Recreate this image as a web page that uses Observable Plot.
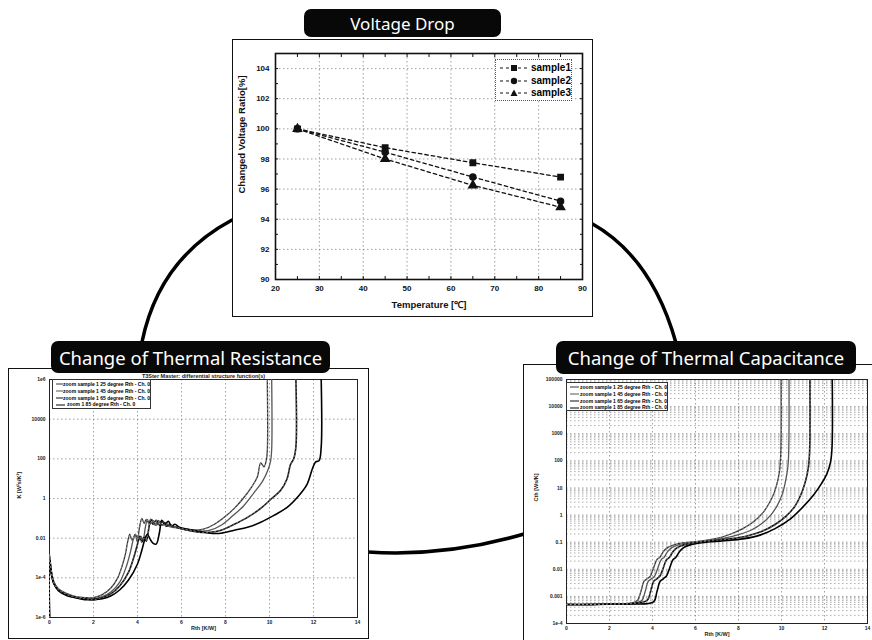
<!DOCTYPE html>
<html><head><meta charset="utf-8">
<script src="https://cdn.jsdelivr.net/npm/d3@7"></script>
<script src="https://cdn.jsdelivr.net/npm/@observablehq/plot@0.6"></script>
<style>
body{margin:0;background:#fff;}
#stage{position:relative;width:872px;height:640px;overflow:hidden;background:#fff;font-family:"Liberation Sans",Arial,sans-serif;}
.abs{position:absolute;}
.frame{position:absolute;border:1.5px solid #111;box-sizing:border-box;pointer-events:none;}
.tag{position:absolute;background:#080808;color:#fff;font-family:"Noto Sans","Open Sans",sans-serif;border-radius:7px;display:flex;align-items:center;justify-content:center;white-space:nowrap;}
.leg{position:absolute;background:#fff;border:1px dotted #555;box-sizing:border-box;}
.leg .row{display:flex;align-items:center;white-space:nowrap;}
</style></head>
<body><div id="stage">
<svg class="abs" width="872" height="640" style="left:0;top:0">
  <g fill="none" stroke="#000" stroke-width="3.5" stroke-linecap="round">
    <path d="M232,220 Q159,259 142,342"/>
    <path d="M591,223 Q652,257 676,343"/>
    <path d="M368,552 Q446,557 524,534"/>
  </g>
</svg>
<div id="top" class="abs" style="left:232px;top:39px"></div>
<div class="frame" style="left:232px;top:39px;width:361px;height:278px"></div>
<div id="left" class="abs" style="left:9px;top:368px"></div>
<div class="frame" style="left:8px;top:368px;width:361px;height:271px"></div>
<div id="right" class="abs" style="left:524px;top:365px"></div>
<div class="frame" style="left:523px;top:364px;width:360px;height:290px"></div>
<div class="tag" style="left:304px;top:9px;width:197px;height:28px;font-size:17px">Voltage Drop</div>
<div class="tag" style="left:51px;top:341px;width:279px;height:32px;font-size:18.5px">Change of Thermal Resistance</div>
<div class="tag" style="left:556px;top:341px;width:300px;height:33px;font-size:18.5px">Change of Thermal Capacitance</div>
</div>
<script>
// ---------- Voltage drop data ----------
const temps = [25, 45, 65, 85];
const sample1 = [100, 98.75, 97.75, 96.8];
const sample2 = [100, 98.45, 96.8, 95.2];
const sample3 = [100, 98.0, 96.25, 94.8];
const seriesNames = ["sample1", "sample2", "sample3"];
const seriesSymbols = ["square", "circle", "triangle"];
const topXTicks = [20, 30, 40, 50, 60, 70, 80, 90];
const topYTicks = [90, 92, 94, 96, 98, 100, 102, 104];

// ---------- Thermal resistance (differential structure function) ----------
// x = Rth [K/W], y given as log10 of K
const L1x = [0,0,0.08,0.2,0.4,0.8,1.2,1.6,2.0,2.4,2.8,3.1,3.3,3.45,3.55,3.65,3.75,3.9,4.0,4.1,4.2,4.3,4.4,4.55,4.7,4.85,5.0,5.15,5.3,5.5,5.8,6.2,6.6,7.0,7.5,8.0,8.4,8.8,9.2,9.45,9.6,9.75,9.85,9.9,9.9];
const L1e = [-6,-2.8,-3.6,-4.2,-4.55,-4.8,-4.95,-5.0,-5.0,-4.85,-4.5,-4.0,-3.4,-2.8,-2.2,-1.8,-2.1,-1.8,-2.0,-1.4,-1.0,-1.25,-1.05,-1.3,-1.1,-1.35,-1.15,-1.35,-1.25,-1.4,-1.45,-1.55,-1.6,-1.55,-1.3,-0.9,-0.5,0.0,0.6,1.1,1.8,1.6,1.9,2.4,6];
const L2x = [0,0,0.08,0.2,0.4,0.8,1.2,1.6,2.0,2.4,2.8,3.2,3.5,3.7,3.8,3.9,4.0,4.15,4.25,4.35,4.45,4.55,4.65,4.8,4.95,5.1,5.25,5.4,5.6,5.9,6.3,6.8,7.3,7.8,8.3,8.8,9.3,9.7,9.95,10.05,10.1,10.1];
const L2e = [-6,-2.9,-3.7,-4.25,-4.6,-4.85,-5.0,-5.05,-5.05,-4.95,-4.7,-4.2,-3.4,-2.6,-2.1,-1.85,-2.2,-1.9,-2.1,-1.5,-1.05,-1.3,-1.05,-1.35,-1.1,-1.35,-1.2,-1.4,-1.45,-1.5,-1.6,-1.65,-1.6,-1.35,-0.9,-0.4,0.3,0.9,1.5,1.9,2.5,6];
const L3x = [0,0,0.08,0.2,0.4,0.8,1.2,1.6,2.0,2.4,2.8,3.2,3.6,3.85,4.0,4.1,4.2,4.3,4.4,4.5,4.6,4.7,4.85,5.0,5.15,5.3,5.45,5.6,5.9,6.3,6.8,7.3,7.8,8.4,9.0,9.6,10.1,10.5,10.8,10.95,11.1,11.2,11.2];
const L3e = [-6,-3.0,-3.7,-4.3,-4.6,-4.85,-5.0,-5.05,-5.1,-5.0,-4.8,-4.4,-3.7,-2.9,-2.3,-1.9,-2.2,-1.95,-2.15,-1.6,-1.05,-1.3,-1.1,-1.35,-1.15,-1.4,-1.3,-1.4,-1.5,-1.6,-1.7,-1.7,-1.6,-1.3,-0.95,-0.5,0.0,0.4,1.0,1.7,2.0,2.6,6];
const L4x = [0,0,0.08,0.2,0.4,0.8,1.2,1.6,2.0,2.4,2.8,3.2,3.6,4.0,4.2,4.35,4.45,4.55,4.7,4.85,5.0,5.1,5.25,5.4,5.55,5.7,5.9,6.3,6.8,7.3,7.8,8.4,9.0,9.6,10.2,10.8,11.3,11.7,11.95,12.1,12.25,12.35,12.35];
const L4e = [-6,-3.0,-3.8,-4.3,-4.65,-4.9,-5.0,-5.1,-5.1,-5.05,-4.9,-4.6,-4.1,-3.3,-2.6,-2.0,-1.8,-2.0,-2.25,-2.3,-1.7,-1.1,-1.3,-1.15,-1.4,-1.3,-1.45,-1.55,-1.65,-1.75,-1.75,-1.6,-1.45,-1.2,-0.85,-0.45,0.1,0.7,1.5,1.85,1.9,2.6,6];
const kTicks = [1e-6, 1e-4, 0.01, 1, 100, 1e4, 1e6];
const kTickLabels = ["1e-6", "1e-4", "0.01", "1", "100", "10000", "1e6"];

// ---------- Thermal capacitance (cumulative structure function) ----------
const R1x = [0,1,2,3,3.3,3.45,3.6,3.75,3.9,4.05,4.2,4.35,4.5,4.7,5.0,5.5,6.0,6.6,7.2,7.7,8.2,8.7,9.1,9.4,9.65,9.82,9.92,9.97,9.98];
const R1e = [-3.3,-3.3,-3.28,-3.25,-3.15,-2.85,-2.45,-2.35,-2.25,-1.95,-1.65,-1.55,-1.35,-1.2,-1.1,-1.02,-0.98,-0.92,-0.82,-0.68,-0.5,-0.25,0.05,0.4,0.8,1.25,1.7,2.4,5];
const R2x = [0,1,2,3,3.5,3.65,3.8,3.95,4.1,4.25,4.4,4.55,4.7,4.9,5.2,5.7,6.2,6.8,7.4,8.0,8.6,9.1,9.5,9.8,10.05,10.2,10.3,10.34,10.35];
const R2e = [-3.3,-3.3,-3.28,-3.26,-3.15,-2.85,-2.45,-2.35,-2.25,-1.95,-1.65,-1.55,-1.35,-1.2,-1.1,-1.02,-0.98,-0.92,-0.84,-0.72,-0.55,-0.3,0.0,0.35,0.8,1.3,1.8,2.5,5];
const R3x = [0,1,2,3,3.75,3.9,4.05,4.2,4.35,4.5,4.65,4.8,4.95,5.15,5.45,5.9,6.4,7.0,7.7,8.4,9.1,9.7,10.2,10.6,10.9,11.1,11.25,11.31,11.32];
const R3e = [-3.3,-3.3,-3.28,-3.27,-3.15,-2.85,-2.45,-2.35,-2.25,-1.95,-1.65,-1.55,-1.35,-1.2,-1.1,-1.02,-0.98,-0.93,-0.87,-0.77,-0.6,-0.35,-0.05,0.3,0.75,1.2,1.75,2.4,5];
const R4x = [0,1,2,3,4.05,4.2,4.35,4.5,4.65,4.8,4.95,5.1,5.25,5.45,5.75,6.2,6.8,7.5,8.2,9.0,9.7,10.4,11.0,11.5,11.85,12.1,12.28,12.35,12.36];
const R4e = [-3.3,-3.3,-3.29,-3.28,-3.2,-2.85,-2.45,-2.35,-2.25,-1.95,-1.65,-1.55,-1.35,-1.2,-1.1,-1.03,-0.98,-0.94,-0.88,-0.74,-0.5,-0.15,0.3,0.75,1.15,1.5,1.95,2.5,5];
const cTicks = [1e-4, 0.001, 0.01, 0.1, 1, 10, 100, 1000, 10000, 100000];
const cTickLabels = ["1e-4", "0.001", "0.01", "0.1", "1", "10", "100", "1000", "10000", "100000"];

const rthTicks = [0, 2, 4, 6, 8, 10, 12, 14];
const legendLeft = ["zoom sample 1 25 degree Rth - Ch. 0", "zoom sample 1 45 degree Rth - Ch. 0", "zoom sample 1 65 degree Rth - Ch. 0", "zoom 1 85 degree Rth - Ch. 0"];
const legendRight = ["zoom sample 1 25 degree Rth - Ch. 0", "zoom sample 1 45 degree Rth - Ch. 0", "zoom sample 1 65 degree Rth - Ch. 0", "zoom sample 1 85 degree Rth - Ch. 0"];
const curveColors = ["#333", "#555", "#111", "#000"];

// ---------- build tables ----------
const topSeries = [sample1, sample2, sample3];
const topData = topSeries.flatMap((vals, s) => vals.map((v, i) => ({t: temps[i], v, s})));
const toRows = (xs, es, s) => xs.map((x, i) => ({x, y: Math.pow(10, es[i]), s}));
const leftData = [[L1x, L1e], [L2x, L2e], [L3x, L3e], [L4x, L4e]].map(([a, b], s) => toRows(a, b, s));
const rightData = [[R1x, R1e], [R2x, R2e], [R3x, R3e], [R4x, R4e]].map(([a, b], s) => toRows(a, b, s));
const lookup = (ticks, labels) => d => {
  const i = ticks.findIndex(t => Math.abs(Math.log10(t) - Math.log10(d)) < 1e-6);
  return i < 0 ? "" : labels[i];
};

// ---------- top chart ----------
const gridStyle = {stroke: "#777", strokeOpacity: 0.7, strokeDasharray: "1.5,2.5", strokeWidth: 1};
const topChart = Plot.plot({
  width: 360, height: 277,
  marginLeft: 43, marginRight: 10, marginTop: 14, marginBottom: 37,
  style: {background: "#fff", fontFamily: "Liberation Sans, Arial, sans-serif", fontSize: "8px", fontWeight: "bold", color: "#111"},
  x: {domain: [20, 90]},
  y: {domain: [90, 105]},
  marks: [
    Plot.gridX(topXTicks, gridStyle),
    Plot.gridY(topYTicks, gridStyle),
    Plot.axisX(d3.range(20, 91, 5), {tickSize: -3, tickFormat: () => "", label: null}),
    Plot.axisX(d3.range(20, 91, 5), {anchor: "top", tickSize: -3, tickFormat: () => "", label: null}),
    Plot.axisY(d3.range(90, 106, 1), {tickSize: -3, tickFormat: () => "", label: null}),
    Plot.axisY(d3.range(90, 106, 1), {anchor: "right", tickSize: -3, tickFormat: () => "", label: null}),
    Plot.axisX(topXTicks, {tickSize: 0, tickPadding: 6, label: null}),
    Plot.axisY(topYTicks, {tickSize: 0, tickPadding: 6, label: null}),
    Plot.frame({stroke: "#111", strokeWidth: 1.6}),
    ...seriesNames.map((n, s) => Plot.line(topData.filter(d => d.s === s), {x: "t", y: "v", stroke: "#111", strokeWidth: 1.3, strokeDasharray: "3.5,3"})),
    ...seriesNames.map((n, s) => Plot.dot(topData.filter(d => d.s === s), {x: "t", y: "v", symbol: seriesSymbols[s], fill: "#111", stroke: "#111", r: 3})),
    Plot.text(["Temperature [℃]"], {text: d => d, frameAnchor: "bottom", dy: 28, fontSize: 9.5, fontWeight: "bold"}),
    Plot.text(["Changed Voltage Ratio[%]"], {text: d => d, frameAnchor: "left", rotate: -90, dx: -34, dy: 27, fontSize: 9.5, fontWeight: "bold"})
  ]
});
document.getElementById("top").append(topChart);

// top legend
(function () {
  const leg = document.createElement("div");
  leg.className = "leg";
  Object.assign(leg.style, {left: "495px", top: "59px", width: "77px", height: "42px", padding: "2px 0 0 3px", fontSize: "10px", fontWeight: "bold", lineHeight: "12.5px"});
  seriesNames.forEach((n, s) => {
    const row = document.createElement("div");
    row.className = "row";
    const sym = s === 0 ? '<rect x="12" y="2" width="6" height="6" fill="#111"/>'
      : s === 1 ? '<circle cx="15" cy="5" r="3.2" fill="#111"/>'
      : '<path d="M15,1.5 L18.5,8 L11.5,8 Z" fill="#111"/>';
    row.innerHTML = `<svg width="30" height="10"><line x1="1" y1="5" x2="28" y2="5" stroke="#111" stroke-width="1.2" stroke-dasharray="3,3"/>${sym}</svg><span style="margin-left:2px">${n}</span>`;
    leg.append(row);
  });
  document.getElementById("stage").append(leg);
})();

// ---------- lower charts ----------
function lowerChart({data, yTicks, yLabels, yDomain, minorGrid, width, height, margins, title, ylabel}) {
  const fmt = lookup(yTicks, yLabels);
  return Plot.plot({
    width, height, ...margins,
    style: {background: "#fff", fontFamily: "Liberation Sans, Arial, sans-serif", fontSize: "5px", color: "#222"},
    x: {domain: [0, 14]},
    y: {type: "log", domain: yDomain},
    marks: [
      Plot.gridX(rthTicks, gridStyle),
      Plot.gridY(minorGrid, {...gridStyle, strokeOpacity: 0.6}),
      Plot.gridY(yTicks, gridStyle),
      Plot.axisX(rthTicks, {tickSize: 0, tickPadding: 3, label: null, fontWeight: "bold"}),
      Plot.axisY(yTicks, {tickSize: 0, tickPadding: 4, tickFormat: fmt, label: null, fontWeight: "bold"}),
      Plot.frame({stroke: "#222", strokeWidth: 1}),
      ...data.map((rows, s) => Plot.line(rows, {x: "x", y: "y", stroke: curveColors[s], strokeWidth: s >= 2 ? 1.6 : 1.3, clip: true, curve: "catmull-rom"})),
      ...data.map((rows, s) => s % 2 === 0 ? Plot.line(rows, {x: "x", y: "y", stroke: "#bbb", strokeWidth: 0.6, strokeDasharray: "1,3", clip: true, curve: "catmull-rom"}) : null).filter(Boolean),
      Plot.text(["Rth [K/W]"], {text: d => d, frameAnchor: "bottom", dy: 12, fontSize: 5.5, fontWeight: "bold"}),
      Plot.text([ylabel], {text: d => d, frameAnchor: "left", rotate: -90, dx: -30, fontSize: 5.5, fontWeight: "bold"}),
      title ? Plot.text([title], {text: d => d, frameAnchor: "top", dy: -5, fontSize: 5.5, fontWeight: "bold"}) : null
    ].filter(Boolean)
  });
}

const leftChart = lowerChart({
  data: leftData, yTicks: kTicks, yLabels: kTickLabels, yDomain: [1e-6, 1e6], minorGrid: [],
  width: 359, height: 270,
  margins: {marginLeft: 40, marginRight: 11, marginTop: 11, marginBottom: 21},
  title: "T3Ster Master: differential structure function(s)", ylabel: "K [W²s/K²]"
});
document.getElementById("left").append(leftChart);

const minorC = d3.range(-4, 5).flatMap(k => [2, 3, 4, 5, 6, 7, 8, 9].map(m => m * Math.pow(10, k)));
const rightChart = lowerChart({
  data: rightData, yTicks: cTicks, yLabels: cTickLabels, yDomain: [1e-4, 1e5], minorGrid: minorC,
  width: 348, height: 275,
  margins: {marginLeft: 42, marginRight: 5, marginTop: 14, marginBottom: 17},
  title: null, ylabel: "Cth [Ws/K]"
});
document.getElementById("right").append(rightChart);

// lower legends
function addLegend(labels, left, top, width, height) {
  const leg = document.createElement("div");
  leg.className = "leg";
  Object.assign(leg.style, {left: left + "px", top: top + "px", width: width + "px", height: height + "px", padding: "1px 0 0 2px", fontSize: "5px", fontWeight: "bold", lineHeight: "6.8px", border: "1px solid #333"});
  labels.forEach((n, s) => {
    const row = document.createElement("div");
    row.className = "row";
    row.innerHTML = `<svg width="12" height="6"><line x1="1" y1="3" x2="10" y2="3" stroke="${curveColors[s]}" stroke-width="1"/></svg><span>${n}</span>`;
    leg.append(row);
  });
  document.getElementById("stage").append(leg);
}
addLegend(legendLeft, 52, 379, 99, 30);
addLegend(legendRight, 566, 382, 102, 29);
</script>
</body></html>
